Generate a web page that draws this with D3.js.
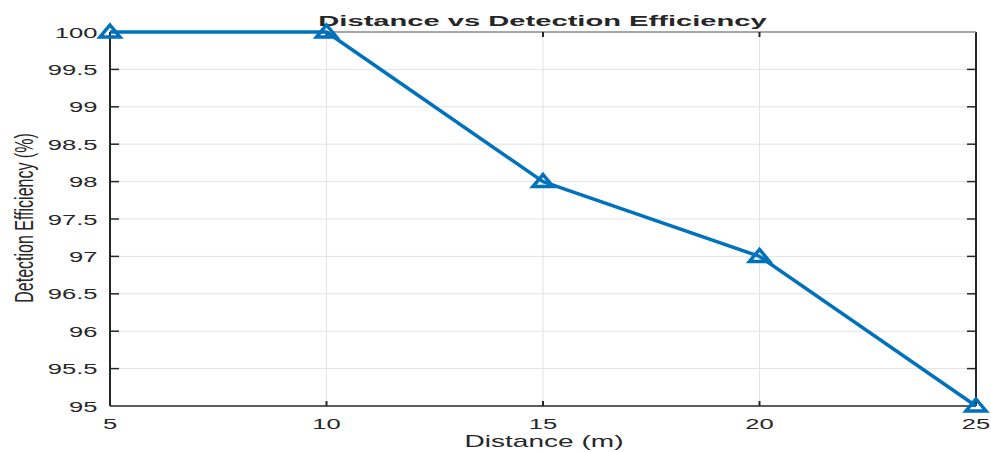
<!DOCTYPE html>
<html>
<head>
<meta charset="utf-8">
<script src="https://cdn.jsdelivr.net/npm/d3@7"></script>
<style>
  html, body { margin: 0; padding: 0; background: #fff; }
  svg { display: block; }
  text { font-family: "Liberation Sans", Arial, Helvetica, sans-serif; fill: #262626; }
</style>
</head>
<body>
<svg id="chart" width="991" height="452"></svg>
<script>
// Detection efficiency measured at each distance
const distances = [5, 10, 15, 20, 25];
const efficiency = [100, 100, 98, 97, 95];
const xTicks = [5, 10, 15, 20, 25];
const yTicks = [95, 95.5, 96, 96.5, 97, 97.5, 98, 98.5, 99, 99.5, 100];

const W = 991, H = 452;
const m = { left: 110, right: 15, top: 32, bottom: 46 };
const SX = 1.65; // horizontal stretch applied to the text glyphs

const svg = d3.select("#chart");
const x = d3.scaleLinear().domain([5, 25]).range([m.left, W - m.right]);
const y = d3.scaleLinear().domain([95, 100]).range([H - m.bottom, m.top]);
const x0 = x.range()[0], x1 = x.range()[1], y0 = y.range()[0], y1 = y.range()[1];

// grid
const grid = svg.append("g");
grid.selectAll("line.gx").data(xTicks.slice(1, -1)).join("line")
  .attr("x1", d => x(d)).attr("x2", d => x(d)).attr("y1", y1).attr("y2", y0)
  .attr("stroke", "#e3e3e3").attr("stroke-width", 1);
grid.selectAll("line.gy").data(yTicks.slice(1, -1)).join("line")
  .attr("y1", d => y(d)).attr("y2", d => y(d)).attr("x1", x0).attr("x2", x1)
  .attr("stroke", "#e3e3e3").attr("stroke-width", 1);

// box with inward ticks
const axisCol = "#262626";
const box = svg.append("g").attr("stroke", axisCol).attr("fill", "none");
box.append("line").attr("x1", x0).attr("x2", x1).attr("y1", y0).attr("y2", y0).attr("stroke-width", 1.5);
box.append("line").attr("x1", x0).attr("x2", x0).attr("y1", y1).attr("y2", y0).attr("stroke-width", 2);
box.append("line").attr("x1", x1).attr("x2", x1).attr("y1", y1).attr("y2", y0).attr("stroke-width", 2);
box.append("line").attr("x1", x0).attr("x2", x1).attr("y1", y1).attr("y2", y1).attr("stroke", "#8a8a8a").attr("stroke-width", 1.5);

const ticksG = svg.append("g").attr("stroke", axisCol).attr("stroke-width", 1.5);
xTicks.slice(1, -1).forEach(t => {
  ticksG.append("line").attr("x1", x(t)).attr("x2", x(t)).attr("y1", y0).attr("y2", y0 - 5).attr("stroke-width", 2);
  ticksG.append("line").attr("x1", x(t)).attr("x2", x(t)).attr("y1", y1).attr("y2", y1 + 5).attr("stroke-width", 2);
});
yTicks.slice(1, -1).forEach(t => {
  ticksG.append("line").attr("x1", x0).attr("x2", x0 + 9).attr("y1", y(t)).attr("y2", y(t));
  ticksG.append("line").attr("x1", x1).attr("x2", x1 - 9).attr("y1", y(t)).attr("y2", y(t));
});

// stretched text helper
function label(px, py, str, opts) {
  const g = svg.append("g").attr("transform", `translate(${px},${py}) scale(${opts.sx || SX},1)` + (opts.rot ? ` rotate(${opts.rot})` : ""));
  return g.append("text").text(str)
    .attr("text-anchor", opts.anchor || "middle")
    .attr("font-size", opts.size)
    .attr("font-weight", opts.weight || "normal");
}

// tick labels
xTicks.forEach(t => label(x(t), 428.5, String(t), { size: 15.5 }));
yTicks.forEach(t => label(97.5, y(t) + 5.5, d3.format("~g")(t), { size: 15.5, anchor: "end" }));

// titles
label(542.5, 26, "Distance vs Detection Efficiency", { size: 15.5, weight: "bold", sx: 1.88 }).attr("fill", "#000");
label(544, 447, "Distance (m)", { size: 17 });
label(33, 218, "Detection Efficiency (%)", { size: 16, rot: -90, sx: 1.65 });

// data line
const color = "#0072BD";
const pts = distances.map((d, i) => [d, efficiency[i]]);
svg.append("path")
  .attr("d", d3.line().x(d => x(d[0])).y(d => y(d[1]))(pts))
  .attr("fill", "none").attr("stroke", color).attr("stroke-width", 3.5).attr("stroke-linejoin", "round");

// triangle markers
const tri = "M0,-7 L10,5 L-10,5 Z";
svg.selectAll("path.mk").data(pts).join("path")
  .attr("class", "mk")
  .attr("transform", d => `translate(${x(d[0])},${y(d[1])})`)
  .attr("d", tri)
  .attr("fill", "none").attr("stroke", color).attr("stroke-width", 3.5).attr("stroke-linejoin", "miter");
</script>
</body>
</html>
